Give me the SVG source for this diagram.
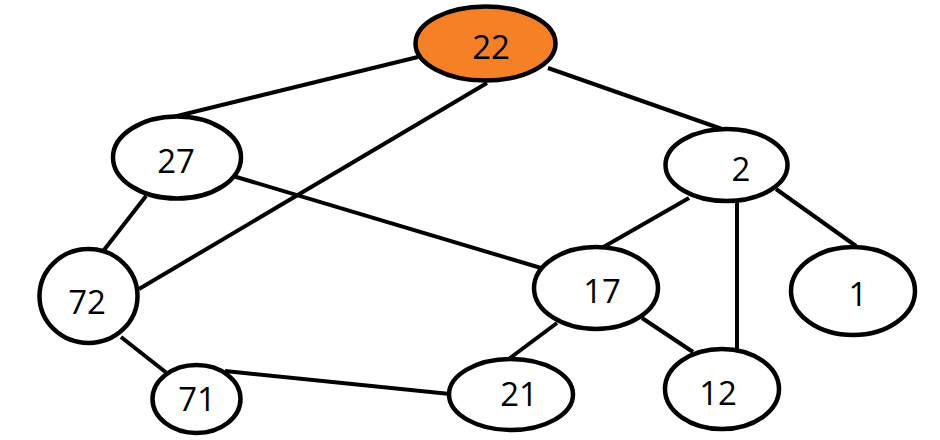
<svg xmlns="http://www.w3.org/2000/svg" width="940" height="440" viewBox="0 0 940 440">
<style>
.n{fill:#fff;stroke:#000;stroke-width:4.5}
.hl{fill:#f68026}
.e{stroke:#000;stroke-width:4;fill:none}
text{font-family:"Open Sans","Liberation Sans",sans-serif;font-size:33px;fill:#000;text-anchor:middle;dominant-baseline:central}
</style>
<rect width="940" height="440" fill="#fff"/>
<g id="edges">
<line class="e" x1="418" y1="57" x2="173" y2="117"/>
<line class="e" x1="548" y1="68" x2="722" y2="129"/>
<line class="e" x1="487" y1="83" x2="139" y2="289"/>
<line class="e" x1="233" y1="176" x2="541" y2="268"/>
<line class="e" x1="146" y1="196" x2="104" y2="250"/>
<line class="e" x1="121" y1="337" x2="168" y2="374"/>
<line class="e" x1="225" y1="371" x2="450" y2="394"/>
<line class="e" x1="689" y1="198" x2="600" y2="249"/>
<line class="e" x1="737" y1="203" x2="737" y2="351"/>
<line class="e" x1="776" y1="189" x2="856" y2="246"/>
<line class="e" x1="557" y1="323" x2="510" y2="358"/>
<line class="e" x1="642" y1="318" x2="693" y2="352"/>
</g>
<g id="n22"><ellipse class="n hl" cx="485.5" cy="43.5" rx="70" ry="37"/><text x="491" y="46">22</text></g>
<g id="n27"><ellipse class="n" cx="177" cy="157.5" rx="64" ry="41"/><text x="176" y="160">27</text></g>
<g id="n2"><ellipse class="n" cx="726.5" cy="165" rx="61" ry="36"/><text x="741" y="168">2</text></g>
<g id="n72"><ellipse class="n" cx="88.5" cy="296" rx="49" ry="47"/><text x="87" y="301">72</text></g>
<g id="n17"><ellipse class="n" cx="596" cy="288" rx="62" ry="41"/><text x="602" y="290">17</text></g>
<g id="n1"><ellipse class="n" cx="853" cy="291" rx="62" ry="44"/><text x="858" y="293">1</text></g>
<g id="n71"><ellipse class="n" cx="196.5" cy="399" rx="44" ry="34"/><text x="197" y="398">71</text></g>
<g id="n21"><ellipse class="n" cx="511" cy="394.5" rx="62" ry="35.5"/><text x="519" y="393">21</text></g>
<g id="n12"><ellipse class="n" cx="722" cy="389" rx="57" ry="40"/><text x="718" y="392">12</text></g>
</svg>
